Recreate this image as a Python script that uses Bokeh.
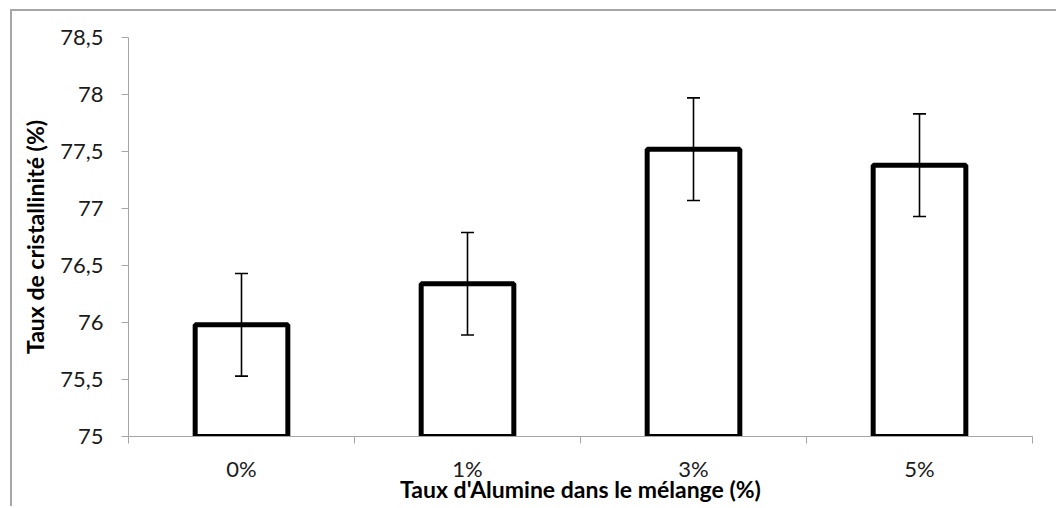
from bokeh.plotting import figure
from bokeh.models import (ColumnDataSource, Range1d, FixedTicker, Whisker, TeeHead)
from bokeh.embed import file_html
from bokeh.resources import INLINE

# ---- data ----
categories = ["0%", "1%", "3%", "5%"]
values = [75.98, 76.34, 77.52, 77.38]
errors = [0.45, 0.45, 0.45, 0.45]
y_ticks = [75, 75.5, 76, 76.5, 77, 77.5, 78, 78.5]
y_tick_labels = ["75", "75,5", "76", "76,5", "77", "77,5", "78", "78,5"]

xpos = [i + 0.5 for i in range(len(categories))]
src = ColumnDataSource(dict(
    x=xpos, top=values,
    upper=[v + e for v, e in zip(values, errors)],
    lower=[v - e for v, e in zip(values, errors)],
))

FONT = "Lato"
GRAY = "#a6a6a6"

p = figure(frame_width=904, frame_height=399,
           min_border_left=116, min_border_top=26,
           min_border_right=24, min_border_bottom=70,
           x_range=Range1d(0, len(categories)), y_range=Range1d(75, 78.5),
           output_backend="svg", toolbar_location=None,
           margin=(9, 0, 0, 10),
           styles={"border-left": "2px solid #a6a6a6", "border-top": "2px solid #a6a6a6"})
p.outline_line_color = None
p.grid.grid_line_color = None
p.background_fill_color = "white"
p.border_fill_color = "white"

p.vbar(x="x", top="top", bottom=75, width=0.41, source=src,
       fill_color="white", line_color="black", line_width=5)

w = Whisker(base="x", upper="upper", lower="lower", source=src,
            line_color="black", line_width=1.6, level="overlay",
            upper_head=TeeHead(size=13, line_color="black", line_width=1.6),
            lower_head=TeeHead(size=13, line_color="black", line_width=1.6))
p.add_layout(w)

# y axis
ya = p.yaxis[0]
ya.ticker = FixedTicker(ticks=y_ticks, minor_ticks=[])
ya.major_label_overrides = {t: l for t, l in zip(y_ticks, y_tick_labels)}
ya.axis_line_color = GRAY
ya.major_tick_line_color = GRAY
ya.major_tick_in = 0
ya.major_tick_out = 7
ya.major_label_text_font = FONT
ya.major_label_text_font_size = "22px"
ya.major_label_text_color = "#1a1a1a"
ya.major_label_standoff = 18
ya.axis_label = "Taux de cristallinité (%)"
ya.axis_label_text_font = FONT
ya.axis_label_text_font_style = "bold"
ya.axis_label_text_font_size = "23px"
ya.axis_label_text_color = "black"
ya.axis_label_standoff = 8

# x axis
xa = p.xaxis[0]
xa.ticker = FixedTicker(ticks=xpos, minor_ticks=list(range(len(categories) + 1)))
xa.major_label_overrides = {x: c for x, c in zip(xpos, categories)}
xa.axis_line_color = GRAY
xa.major_tick_line_color = None
xa.major_tick_in = 0
xa.major_tick_out = 0
xa.minor_tick_line_color = GRAY
xa.minor_tick_in = 0
xa.minor_tick_out = 7
xa.major_label_text_font = FONT
xa.major_label_text_font_size = "22px"
xa.major_label_text_color = "#1a1a1a"
xa.major_label_standoff = 11
xa.axis_label = "Taux d'Alumine dans le mélange (%)"
xa.axis_label_text_font = FONT
xa.axis_label_text_font_style = "bold"
xa.axis_label_text_font_size = "23px"
xa.axis_label_text_color = "black"
xa.axis_label_standoff = -10

open("out.html", "w").write(file_html(p, INLINE))
